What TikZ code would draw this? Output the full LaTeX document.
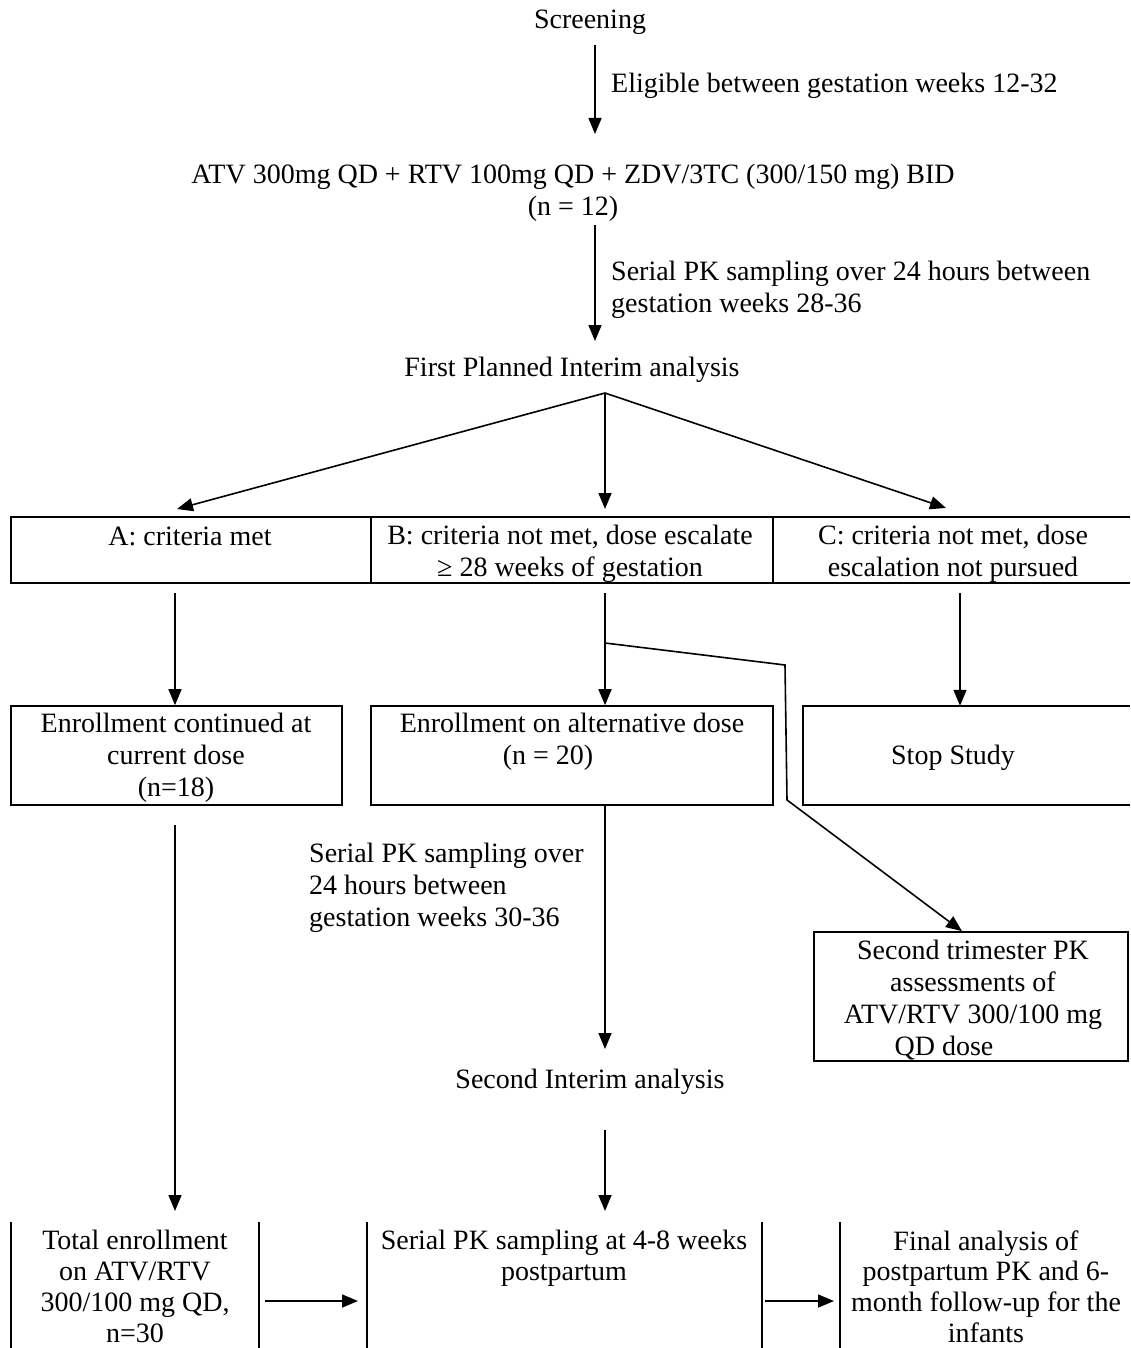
\documentclass[tikz,border=0pt]{standalone}
\usepackage{fontspec}
\setmainfont{Liberation Serif}
\usetikzlibrary{arrows.meta}
\begin{document}
\begin{tikzpicture}[x=1pt,y=-1pt,
 every node/.style={font=\fontsize{28}{32}\selectfont, inner sep=0pt},
 txt/.style={align=center, yshift=-2.5pt},
 ltxt/.style={align=left, anchor=west, yshift=-2.5pt},
 bx/.style={draw, line width=1.6pt},
 ln/.style={line width=1.6pt},
 conn/.style={line width=1.6pt, -{Triangle[length=16pt,width=13pt]}}]
\useasboundingbox (0,0) rectangle (1130,1348);
\fill[white] (0,0) rectangle (1130,1348);

% top texts
\node[txt] (screen) at (590,20) {Screening};
\node[ltxt] (elig) at (611,83) {Eligible between gestation weeks 12-32};
\node[txt] (regimen) at (573,190) {ATV 300mg QD + RTV 100mg QD + ZDV/3TC (300/150 mg) BID\\(n = 12)};
\node[ltxt] (pk1) at (611,287) {Serial PK sampling over 24 hours between\\gestation weeks 28-36};
\node[txt] (first) at (572,367) {First Planned Interim analysis};

\coordinate (s1) at (595,45);  \coordinate (e1) at (595,134);
\coordinate (s2) at (595,225); \coordinate (e2) at (595,341);
\coordinate (fork) at (605,393);
\coordinate (eA) at (177,509); \coordinate (eB) at (605,509); \coordinate (eC) at (946,508);
\draw[conn] (s1) -- (e1);
\draw[conn] (s2) -- (e2);
\draw[conn] (fork) -- (eA);
\draw[conn] (fork) -- (eB);
\draw[conn] (fork) -- (eC);

% row of criteria boxes
\node[bx, minimum width=360pt, minimum height=66pt] (rowA) at (191,550) {};
\node[bx, minimum width=402pt, minimum height=66pt] (rowB) at (572,550) {};
\node[minimum width=357pt, minimum height=66pt] (rowC) at (951.5,550) {};
\draw[ln] (rowC.north east) -- (rowC.north west) -- (rowC.south west) -- (rowC.south east);
\node[txt] (rowAt) at (190,534) {A: criteria met};
\node[txt] (rowBt) at (570,551) {B: criteria not met, dose escalate\\≥ 28 weeks of gestation};
\node[txt] (rowCt) at (953,551) {C: criteria not met, dose\\escalation not pursued};

% second row
\node[bx, minimum width=331pt, minimum height=99pt] (box1) at (176.5,755.5) {};
\node[bx, minimum width=402pt, minimum height=99pt] (box2) at (572,755.5) {};
\node[minimum width=327pt, minimum height=99pt] (box3) at (966.5,755.5) {};
\draw[ln] (box3.north east) -- (box3.north west) -- (box3.south west) -- (box3.south east);
\node[txt] (box1t) at (176,755) {Enrollment continued at\\current dose\\(n=18)};
\node[txt] (box2t) at (572,739) {Enrollment on alternative dose\\(n = 20)\hspace*{48pt}};
\node[txt] (box3t) at (953,755) {Stop Study};

\coordinate (sA) at (175,593); \coordinate (sB) at (605,593); \coordinate (sC) at (960,593);
\draw[conn] (sA) -- (box1.north -| sA);
\draw[conn] (sB) -- (box2.north -| sB);
\draw[conn] (sC) -- (box3.north -| sC);

% branch to second trimester box
\node[bx, minimum width=314pt, minimum height=129pt] (tri) at (971,996.5) {};
\node[txt] (trit) at (973,997.5) {Second trimester PK\\assessments of\\ATV/RTV 300/100 mg\\QD dose\hspace*{58pt}};
\coordinate (br0) at (605,643);
\coordinate (br1) at (785,665);
\coordinate (br2) at (787,800);
\draw[conn] (br0) -- (br1) -- (br2) -- (tri.north -| 962,0);

\node[ltxt] (pk2) at (309,885) {Serial PK sampling over\\24 hours between\\gestation weeks 30-36};
\node[txt] (second) at (590,1079) {Second Interim analysis};

\coordinate (s4) at (175,825); \coordinate (e4) at (175,1211);
\coordinate (e5) at (605,1049);
\coordinate (s6) at (605,1130); \coordinate (e6) at (605,1211);
\draw[conn] (s4) -- (e4);
\draw[conn] (box2.south -| e5) -- (e5);
\draw[conn] (s6) -- (e6);

% bottom row
\node[minimum width=248pt, minimum height=140pt] (bot1) at (135,1292) {};
\node[minimum width=395pt, minimum height=140pt] (bot2) at (564.5,1292) {};
\node[minimum width=290pt, minimum height=140pt] (bot3) at (985,1292) {};
\draw[ln] (bot1.north west) -- (bot1.south west);
\draw[ln] (bot1.north east) -- (bot1.south east);
\draw[ln] (bot2.north west) -- (bot2.south west);
\draw[ln] (bot2.north east) -- (bot2.south east);
\draw[ln] (bot3.north west) -- (bot3.south west);
\node[txt, font=\fontsize{28}{30.8}\selectfont] (bot1t) at (135,1284) {Total enrollment\\on ATV/RTV\\300/100 mg QD,\\n=30};
\node[txt, font=\fontsize{28}{31.3}\selectfont] (bot2t) at (564,1255.5) {Serial PK sampling at 4-8 weeks\\postpartum};
\node[txt, font=\fontsize{28}{30.8}\selectfont] (bot3t) at (986,1284) {Final analysis of\\postpartum PK and 6-\\month follow-up for the\\infants};

\coordinate (a7s) at (265,1301); \coordinate (a7e) at (358,1301);
\coordinate (a8s) at (765,1301); \coordinate (a8e) at (834,1301);
\draw[conn] (a7s) -- (a7e);
\draw[conn] (a8s) -- (a8e);
\end{tikzpicture}
\end{document}
